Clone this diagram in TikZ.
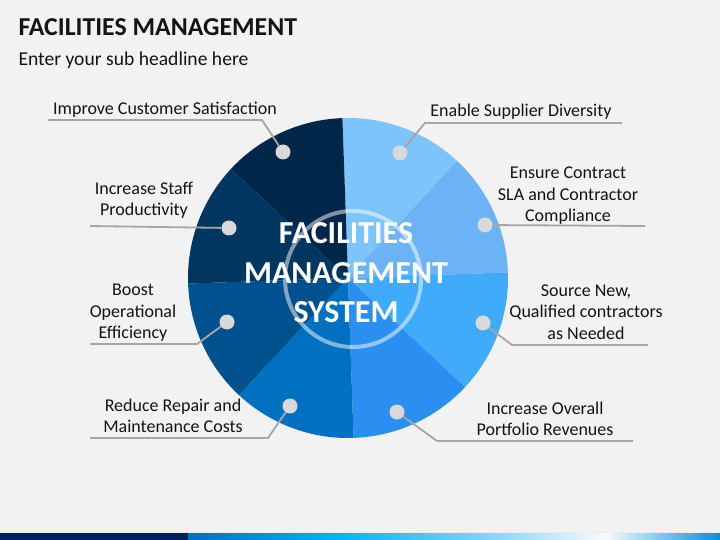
\documentclass[tikz,border=0pt]{standalone}
\usepackage{fontspec}
\setmainfont{Carlito}
\usepackage{tikz}

\definecolor{pagebg}{RGB}{242,242,242}
\definecolor{segA}{RGB}{125,196,251}
\definecolor{segB}{RGB}{108,179,245}
\definecolor{segC}{RGB}{64,171,250}
\definecolor{segD}{RGB}{42,143,240}
\definecolor{segE}{RGB}{0,112,192}
\definecolor{segF}{RGB}{0,81,141}
\definecolor{segG}{RGB}{0,54,96}
\definecolor{segH}{RGB}{0,38,73}
\definecolor{navy}{RGB}{0,32,96}
\definecolor{leadgray}{RGB}{166,166,166}
\definecolor{dotgray}{RGB}{217,217,217}
\definecolor{ink}{RGB}{20,20,20}

\begin{document}
\begin{tikzpicture}[x=1bp,y=-1bp,
  goal/.style={align=center,inner sep=0pt,text=ink,
    font=\fontsize{18bp}{21.5bp}\selectfont},
  bullet/.style={circle,fill=dotgray,minimum size=15bp,inner sep=0pt},
  leadline/.style={leadgray,line width=1.8bp}]
\useasboundingbox (0,0) rectangle (720,540);
\fill[pagebg] (0,0) rectangle (720,540);

% heading
\node (title) at (15,36) [anchor=base west,text=ink,font=\bfseries\fontsize{25.8bp}{29bp}\selectfont] {FACILITIES MANAGEMENT};
\node (sub)   at (15,66) [anchor=base west,text=ink,font=\fontsize{19.6bp}{24bp}\selectfont] {Enter your sub headline here};

% pie, clockwise from the top
\coordinate (ctr) at (348,278);
\fill[segA] (ctr) -- ++(268:160) arc[start angle=268,end angle=313,radius=160] -- cycle;
\fill[segB] (ctr) -- ++(313:160) arc[start angle=313,end angle=358,radius=160] -- cycle;
\fill[segC] (ctr) -- ++(358:160) arc[start angle=358,end angle=403,radius=160] -- cycle;
\fill[segD] (ctr) -- ++(43:160)  arc[start angle=43,end angle=88,radius=160] -- cycle;
\fill[segE] (ctr) -- ++(88:160)  arc[start angle=88,end angle=133,radius=160] -- cycle;
\fill[segF] (ctr) -- ++(133:160) arc[start angle=133,end angle=178,radius=160] -- cycle;
\fill[segG] (ctr) -- ++(178:160) arc[start angle=178,end angle=223,radius=160] -- cycle;
\fill[segH] (ctr) -- ++(223:160) arc[start angle=223,end angle=268,radius=160] -- cycle;
\draw[white,opacity=.5,line width=4bp] (353,279) circle[radius=68];
\node (hub) at (346,273) [align=center,inner sep=0pt,text=white,font=\bfseries\fontsize{32bp}{39.5bp}\selectfont] {FACILITIES\\MANAGEMENT\\SYSTEM};

% texts
\node (g1) at (165,110) [goal] {Improve Customer Satisfaction};
\node (g2) at (144,200) [goal] {Increase Staff\\Productivity};
\node (g3) at (133,313) [goal] {Boost\\Operational\\Efficiency};
\node (g4) at (173,416) [goal] {Reduce Repair and\\Maintenance Costs};
\node (g5) at (521,112) [goal] {Enable Supplier Diversity};
\node (g6) at (568,196) [goal] {Ensure Contract\\SLA and Contractor\\Compliance};
\node (g7) at (586,312) [goal] {Source New,\\Qualified contractors\\as Needed};
\node (g8) at (545,419) [goal] {Increase Overall\\Portfolio Revenues};

% leader lines
\coordinate (b1) at (262,120); \coordinate (e1) at (48,120);
\coordinate (e2) at (90,226);
\coordinate (b3) at (197,344); \coordinate (e3) at (90,344);
\coordinate (b4) at (268,438); \coordinate (e4) at (90,438);
\coordinate (b5) at (425,123); \coordinate (e5) at (622,123);
\coordinate (e6) at (645,226);
\coordinate (b7) at (512,345); \coordinate (e7) at (648,345);
\coordinate (b8) at (437,441); \coordinate (e8) at (633,441);
\node (d1) at (283,152) [bullet] {};
\node (d2) at (229,228) [bullet] {};
\node (d3) at (227,322) [bullet] {};
\node (d4) at (290,406) [bullet] {};
\node (d5) at (400,153) [bullet] {};
\node (d6) at (485,225) [bullet] {};
\node (d7) at (483,323) [bullet] {};
\node (d8) at (397,412) [bullet] {};
\draw[leadline] (d1) -- (b1) -- (e1);
\draw[leadline] (d2) -- (e2);
\draw[leadline] (d3) -- (b3) -- (e3);
\draw[leadline] (d4) -- (b4) -- (e4);
\draw[leadline] (d5) -- (b5) -- (e5);
\draw[leadline] (d6) -- (e6);
\draw[leadline] (d7) -- (b7) -- (e7);
\draw[leadline] (d8) -- (b8) -- (e8);

% footer strip
\fill[white!92!black] (0,532) rectangle (720,533);
\fill[navy] (0,533) rectangle (188,540);
\shade[left color={rgb,255:red,0;green,112;blue,192},right color={rgb,255:red,0;green,176;blue,240}] (188,533) rectangle (330,540);
\shade[left color={rgb,255:red,0;green,176;blue,240},right color={rgb,255:red,125;green,210;blue,245}] (330,533) rectangle (480,540);
\shade[left color={rgb,255:red,125;green,210;blue,245},right color={rgb,255:red,248;green,250;blue,252}] (480,533) rectangle (605,540);
\shade[left color={rgb,255:red,248;green,250;blue,252},right color={rgb,255:red,10;green,140;blue,220}] (605,533) rectangle (720,540);
\end{tikzpicture}
\end{document}
